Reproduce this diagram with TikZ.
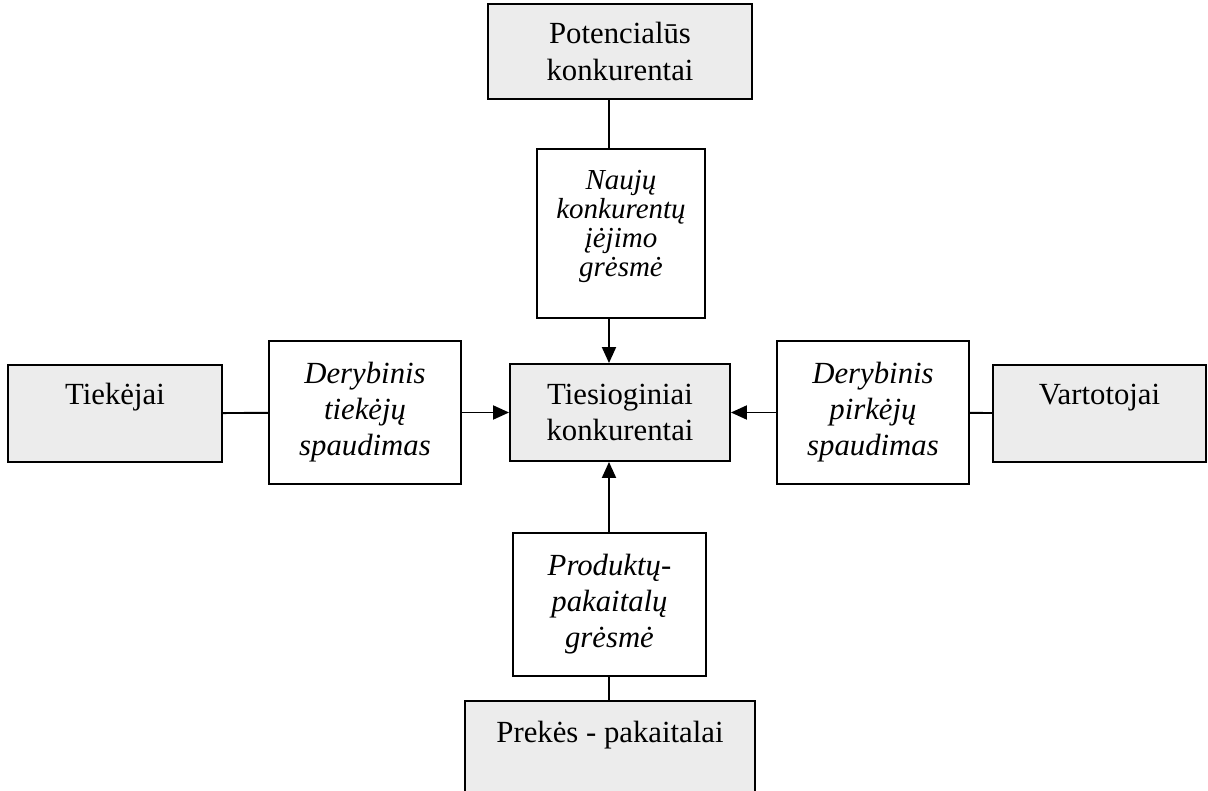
\documentclass[tikz,border=0pt]{standalone}
\usepackage{fontspec}
\setmainfont{Liberation Serif}
\usetikzlibrary{arrows.meta}

\begin{document}
\begin{tikzpicture}[x=0.02cm,y=-0.02cm,
 pilka/.style={draw,line width=1.1pt,fill=gray!15,align=center,inner sep=0pt,font=\fontsize{17.5}{21}\selectfont},
 balta/.style={draw,line width=1.1pt,fill=white,align=center,inner sep=0pt,font=\itshape\fontsize{17.5}{20.5}\selectfont},
 linija/.style={line width=1.1pt},
 rodykle/.style={line width=1.1pt,-{Triangle[length=0.32cm,width=0.28cm]}}]
\useasboundingbox (0,0) rectangle (1208,791);
%\draw[help lines] (0,0) grid[step=100] (1208,791);

% centras
\node[pilka,minimum width=4.4cm,minimum height=1.94cm] (tiesiog) at (620,412.5) {Tiesioginiai\\konkurentai};

% virsus
\node[pilka,minimum width=5.28cm,minimum height=1.9cm] (pot) at (620,51.5) {Potencialūs\\konkurentai};
\node[draw,line width=1.1pt,fill=white,inner sep=0pt,font=\itshape\fontsize{16.5}{16.5}\selectfont,
      anchor=north,minimum width=3.36cm,text height=0.82cm,text depth=2.56cm] (naujas) at (621,148)
      {\tabcolsep=0pt\begin{tabular}[t]{c}Naujų\\konkurentų\\įėjimo\\grėsmė\end{tabular}};

% kaire ir desine
\node[pilka,anchor=north,minimum width=4.28cm,text height=0.8cm,text depth=1.14cm] (tiek) at (115,364) {Tiekėjai};
\node[balta,minimum width=3.84cm,minimum height=2.86cm] (dertiek) at (365,412.5) {Derybinis\\tiekėjų\\spaudimas};
\node[balta,minimum width=3.84cm,minimum height=2.86cm] (derpirk) at (873,412.5) {Derybinis\\pirkėjų\\spaudimas};
\node[pilka,anchor=north,minimum width=4.26cm,text height=0.8cm,text depth=1.14cm] (vart) at (1099.5,364) {Vartotojai};

% apacia
\node[balta,line width=0.6pt,minimum width=3.86cm,minimum height=2.86cm] (prod) at (609.5,604.5) {Produktų-\\pakaitalų\\grėsmė};
\node[pilka,anchor=north,minimum width=5.8cm,text height=0.84cm,text depth=1.5cm] (prek) at (610,700) {Prekės - pakaitalai};

\coordinate (ax) at (609,0);
\draw[linija] (pot.south -| ax) -- (naujas.north -| ax);
\draw[rodykle] (naujas.south -| ax) -- (tiesiog.north -| ax);
\draw[linija] (tiek) -- (dertiek);
\draw[rodykle] (dertiek) -- (tiesiog);
\draw[linija] (vart) -- (derpirk);
\draw[rodykle] (derpirk) -- (tiesiog);
\draw[rodykle] (prod.north -| ax) -- (tiesiog.south -| ax);
\draw[linija] (prod.south -| ax) -- (prek.north -| ax);
\end{tikzpicture}
\end{document}
